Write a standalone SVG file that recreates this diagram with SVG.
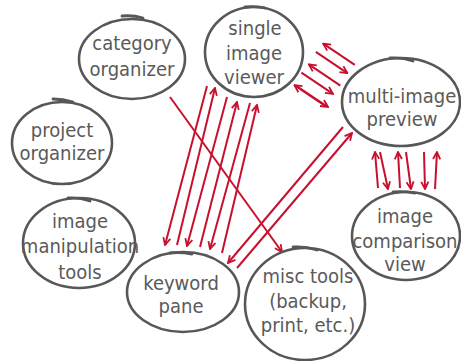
<svg xmlns="http://www.w3.org/2000/svg" width="461" height="361" viewBox="0 0 461 361">
<style>
.node ellipse{fill:none;stroke:#575757;stroke-width:2.6}
.node path{fill:none;stroke:#575757;stroke-width:2.8;stroke-linecap:round}
.node text{font-family:"Liberation Sans Narrow","DejaVu Sans Condensed","Liberation Sans",sans-serif;font-size:20px;fill:#5a5a5a;text-anchor:middle}
#edges line{stroke:#c8102e;stroke-width:2;marker-end:url(#ah)}
</style>
<defs>
<marker id="ah" viewBox="0 0 10 10" refX="9" refY="5" markerWidth="9" markerHeight="9" markerUnits="userSpaceOnUse" orient="auto"><path d="M1,1 L9,5 L1,9" fill="none" stroke="#c8102e" stroke-width="2"/></marker>
</defs>
<rect width="461" height="361" fill="#fff"/>
<g id="edges">
<line x1="170" y1="97" x2="282" y2="252"/>
<line x1="207" y1="86" x2="165" y2="245"/>
<line x1="177" y1="245" x2="215" y2="88"/>
<line x1="227" y1="97" x2="187" y2="246"/>
<line x1="200" y1="247" x2="237" y2="102"/>
<line x1="250" y1="103" x2="210" y2="249"/>
<line x1="222" y1="253" x2="257" y2="105"/>
<line x1="343" y1="127" x2="228" y2="263"/>
<line x1="237" y1="268" x2="352" y2="133"/>
<line x1="354.8" y1="64.8" x2="323.2" y2="43.6"/>
<line x1="315.8" y1="51.9" x2="347.4" y2="73.1"/>
<line x1="340.4" y1="85.6" x2="308.8" y2="64.4"/>
<line x1="301.4" y1="72.7" x2="333" y2="93.9"/>
<line x1="326" y1="106.4" x2="294.4" y2="85.2"/>
<line x1="296.5" y1="86" x2="328" y2="107"/>
<line x1="378" y1="188" x2="375" y2="152"/>
<line x1="380" y1="152" x2="388" y2="189"/>
<line x1="400" y1="188" x2="398" y2="152"/>
<line x1="406" y1="152" x2="411" y2="189"/>
<line x1="424" y1="152" x2="425" y2="189"/>
<line x1="435" y1="189" x2="437" y2="152"/>
</g>
<g id="category-organizer" class="node">
<ellipse cx="132" cy="59" rx="53" ry="40"/>
<path d="M122,16 Q133,15 143,18"/>
<text x="132" y="50">category</text>
<text x="132" y="76">organizer</text>
</g>
<g id="project-organizer" class="node">
<ellipse cx="62" cy="143" rx="50" ry="41"/>
<path d="M53,99 Q63,99 73,102"/>
<text x="62" y="137">project</text>
<text x="62" y="160">organizer</text>
</g>
<g id="single-image-viewer" class="node">
<ellipse cx="254" cy="52" rx="49" ry="45"/>
<path d="M245,7 Q255,6 265,8"/>
<text x="255" y="35">single</text>
<text x="254" y="60">image</text>
<text x="254" y="84">viewer</text>
</g>
<g id="multi-image-preview" class="node">
<ellipse cx="401" cy="102" rx="59" ry="44"/>
<path d="M390,58 Q402,57 413,61"/>
<text x="402" y="103">multi-image</text>
<text x="402" y="126">preview</text>
</g>
<g id="image-manipulation-tools" class="node">
<ellipse cx="79" cy="243" rx="56" ry="45"/>
<path d="M68,198 Q79,197 90,201"/>
<text x="80" y="228">image</text>
<text x="80" y="253">manipulation</text>
<text x="80" y="279">tools</text>
</g>
<g id="keyword-pane" class="node">
<ellipse cx="183" cy="292" rx="56" ry="40"/>
<path d="M170,253 Q181,252 192,254"/>
<text x="181" y="290">keyword</text>
<text x="181" y="313">pane</text>
</g>
<g id="misc-tools" class="node">
<ellipse cx="305" cy="304" rx="60" ry="56"/>
<path d="M293,247 Q305,246 317,250"/>
<text x="308" y="283">misc tools</text>
<text x="308" y="308">(backup,</text>
<text x="308" y="332">print, etc.)</text>
</g>
<g id="image-comparison-view" class="node">
<ellipse cx="406" cy="236" rx="54" ry="44"/>
<path d="M393,192 Q404,191 415,193"/>
<text x="405" y="223">image</text>
<text x="405" y="248">comparison</text>
<text x="405" y="271">view</text>
</g>
</svg>
